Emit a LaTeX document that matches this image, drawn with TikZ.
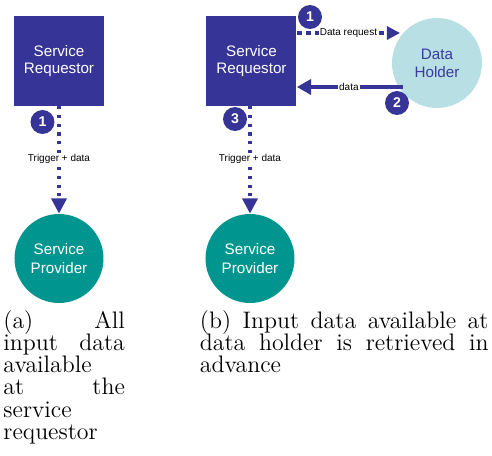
\documentclass[tikz,border=0pt]{standalone}
\usepackage{fontspec}
\newfontfamily\arialfont{Liberation Sans}
\usetikzlibrary{arrows.meta,calc}
\definecolor{navy}{RGB}{54,52,150}
\definecolor{tealprov}{RGB}{0,150,143}
\definecolor{lightholder}{RGB}{184,223,227}
\definecolor{holdertext}{RGB}{58,58,160}
\def\pxu{0.4608pt}
% one justified caption line, and one left-set caption line
\newcommand{\capjust}[1]{\noindent\makebox[\linewidth][s]{#1}\par}
\newcommand{\capleft}[1]{\noindent\makebox[\linewidth][l]{#1}\par}
\newcommand{\capfont}{\fontsize{11pt}{10.28pt}\selectfont\lineskiplimit=-6pt\relax}
\begin{document}
\begin{tikzpicture}[x=0.4608pt,y=-0.4608pt,
  reqbox/.style={rectangle, fill=navy, minimum width=90*\pxu, minimum height=90*\pxu,
    inner sep=0, text=white, align=center,
    font=\arialfont\fontsize{7pt}{8.2pt}\selectfont},
  provcircle/.style={circle, fill=tealprov, minimum size=89*\pxu, inner sep=0,
    text=white, align=center, font=\arialfont\fontsize{7pt}{8.6pt}\selectfont},
  holdercircle/.style={circle, fill=lightholder, minimum size=90*\pxu, inner sep=0,
    text=holdertext, align=center, font=\arialfont\fontsize{7pt}{8.2pt}\selectfont},
  badge/.style={circle, fill=navy, minimum size=24*\pxu, inner sep=0, text=white,
    font=\arialfont\bfseries\fontsize{6.5pt}{7pt}\selectfont},
  lbl/.style={fill=white, inner sep=0.5pt, text=black,
    font=\arialfont\fontsize{4.6pt}{5pt}\selectfont},
  dotarrow/.style={navy, line width=1.4pt, dash pattern=on 1.4pt off 2.6pt,
    -{Triangle[width=7pt,length=7pt]}},
  reqarrow/.style={navy, line width=1.4pt, dash pattern=on 2.2pt off 2pt,
    -{Triangle[width=6pt,length=6pt]}},
  dataarrow/.style={navy, line width=1.4pt, -{Triangle[width=7pt,length=6.5pt]}},
  caption/.style={anchor=base west, inner sep=0, text=black}
]
\useasboundingbox (0,0) rectangle (492,456);

% ---- (a) all input data at the requestor
\node[reqbox] (lreq) at (59,61) {Service\\Requestor};
\node[provcircle] (lprov) at (59,258.5) {Service\\Provider};
\draw[dotarrow] (lreq.south) -- (lprov.north)
  node[lbl, pos=0.49] (ltrig) {Trigger + data};
\node[badge] (la1) at (42.5,122) {1};

% ---- (b) data fetched from the data holder first
\node[reqbox] (rreq) at (251.5,61) {Service\\Requestor};
\node[holdercircle] (holder) at (437,63) {Data\\Holder};
\node[provcircle] (rprov) at (250,258.5) {Service\\Provider};

\coordinate (reqtip) at (400,33);
\draw[reqarrow] (rreq.east |- reqtip) -- (reqtip)
  node[lbl, pos=0.5] (reqlbl) {Data request};
\coordinate (datastart) at (403,87);
\draw[dataarrow] (datastart) -- (rreq.east |- datastart)
  node[lbl, pos=0.51] (datalbl) {data};
\draw[dotarrow] (rreq.south -| rprov.north) -- (rprov.north)
  node[lbl, pos=0.49] (rtrig) {Trigger + data};

\node[badge] (rb1) at (310,17) {1};
\node[badge] (rb2) at (397,103) {2};
\node[badge] (rb3) at (235,119) {3};

% ---- captions
\node[caption] (capa) at (3,328) {\parbox[t]{56pt}{\capfont
  \capjust{(a) All}\capjust{input data}\capleft{available}\capjust{at the}%
  \capleft{service}\capleft{requestor}}};
\node[caption] (capb) at (199.5,328) {\parbox[t]{133pt}{\capfont
  \capjust{(b) Input data available at}\capjust{data holder is retrieved in}%
  \capleft{advance}}};
\end{tikzpicture}
\end{document}
